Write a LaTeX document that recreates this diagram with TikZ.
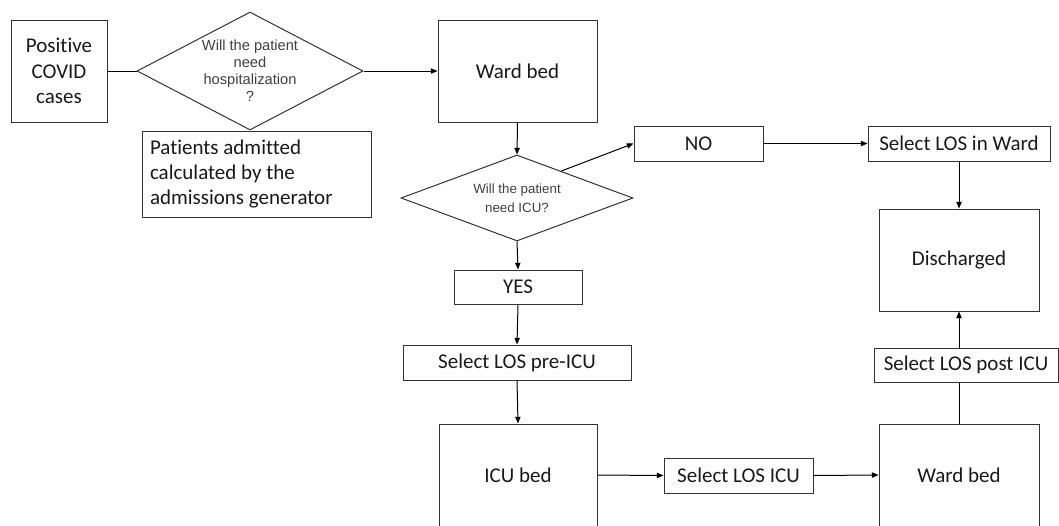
\documentclass[tikz,border=0pt]{standalone}
\usepackage{fontspec}
\setmainfont{Carlito}[Ligatures=NoCommon]
\newfontfamily\arialfont{Liberation Sans}
\usetikzlibrary{shapes.geometric,arrows.meta,calc}

\tikzset{every picture/.style={line width=0.75pt}}
\tikzset{
  box/.style={draw=black!80, text=black!90, inner sep=0pt, align=center, font=\fontsize{15.75}{19}\selectfont},
  dia/.style={diamond, draw=black!80, inner sep=0pt},
  diatext/.style={text=black!75, align=center, inner sep=0pt},
  arr/.style={-{Triangle[length=5pt,width=4pt]}}
}

\begin{document}
\begin{tikzpicture}[x=0.75pt,y=0.75pt,yscale=-1,xscale=1]
\useasboundingbox (0,0) rectangle (1059,525);

%Shape: Rectangle [pos]
\node [box, minimum width=72pt, minimum height=76.5pt] (pos) at (59,71) {Positive\\COVID\\cases};
%Shape: Diamond [d1]
\node [dia, minimum width=169.5pt, minimum height=88.5pt,
  label={[diatext, font=\arialfont\fontsize{11}{12.75}\selectfont]center:Will the patient\\need\\hospitalization\\?}] (d1) at (250,71) {};
%Shape: Rectangle [adm]
\node [box, align=flush left, text width=159.75pt, inner xsep=6pt, minimum height=64.5pt] (adm) at (256.5,174) {Patients admitted\\calculated by the\\admissions generator};
%Shape: Rectangle [ward1]
\node [box, minimum width=119.25pt, minimum height=76.5pt] (ward1) at (517.5,71) {Ward bed};
%Shape: Diamond [d2]
\node [dia, minimum width=174pt, minimum height=64.5pt,
  label={[diatext, font=\arialfont\fontsize{10}{14}\selectfont]center:Will the patient\\need ICU?}] (d2) at (517,198) {};
%Shape: Rectangle [no]
\node [box, minimum width=96.75pt, minimum height=26.25pt] (no) at (698.5,143.5) {NO};
%Shape: Rectangle [selward]
\node [box, minimum width=136.5pt, minimum height=26.25pt] (selward) at (959,143.5) {Select LOS in Ward};
%Shape: Rectangle [dis]
\node [box, minimum width=120pt, minimum height=76.5pt] (dis) at (959,260) {Discharged};
%Shape: Rectangle [yes]
\node [box, minimum width=96pt, minimum height=25.5pt] (yes) at (518,287) {YES};
%Shape: Rectangle [preicu]
\node [box, minimum width=171pt, minimum height=26.25pt] (preicu) at (517,362.5) {Select LOS pre-ICU};
%Shape: Rectangle [icu]
\node [box, minimum width=118.5pt, minimum height=76.5pt] (icu) at (518,475) {ICU bed};
%Shape: Rectangle [selicu]
\node [box, minimum width=111.75pt, minimum height=26.25pt] (selicu) at (738.5,475.5) {Select LOS ICU};
%Shape: Rectangle [ward2]
\node [box, minimum width=120pt, minimum height=76.5pt] (ward2) at (959,475) {Ward bed};
%Shape: Rectangle [post]
\node [box, minimum width=138pt, minimum height=25.5pt] (post) at (966,365) {Select LOS post ICU};

%Straight Lines
\draw (pos.east) -- (d1.west);
\draw [arr] (d1.east) -- (ward1.west);
\draw [arr] (ward1.south) -- (d2.north);
\draw [arr] ($(d2.north)!0.38!(d2.east)$) -- (no.west);
\draw [arr] (no.east) -- (selward.west);
\draw [arr] (selward.south) -- (dis.north);
\draw [arr] (d2.south) -- (yes.north);
\draw [arr] (yes.south) -- (preicu.north);
\draw [arr] (preicu.south) -- (icu.north);
\draw [arr] (icu.east) -- (selicu.west);
\draw [arr] (selicu.east) -- (ward2.west);
\draw (ward2.north) -- (ward2.north |- post.south);
\draw [arr] (post.north -| dis.south) -- (dis.south);

\end{tikzpicture}
\end{document}
